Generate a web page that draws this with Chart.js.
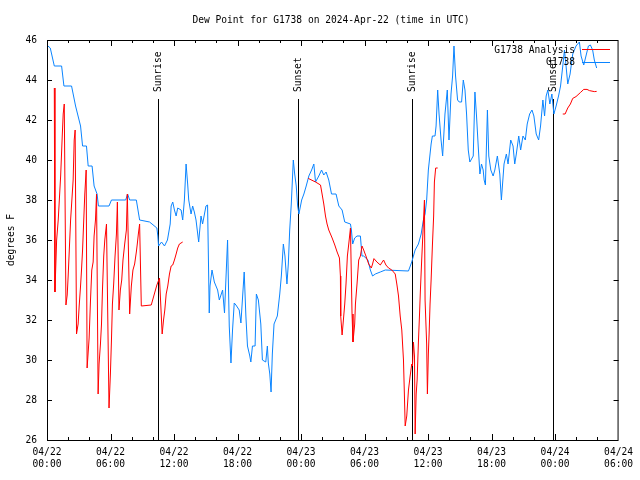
<!DOCTYPE html>
<html lang="en">
<head>
<meta charset="UTF-8">
<title>Dew Point for G1738</title>
<script src="https://cdn.jsdelivr.net/npm/chart.js"></script>
<style>
  body { margin: 0; background: #ffffff; }
  #wrap { width: 640px; height: 480px; }
</style>
</head>
<body>
<div id="wrap"><canvas id="dewChart" width="640" height="480"></canvas></div>
<script>
  // hours since 04/22 00:00 UTC
  const obsHours = [
    0.09, 0.31, 0.69, 1.38, 1.60, 2.32, 2.70, 3.17, 3.36, 3.73,
    3.89, 4.26, 4.45, 4.73, 4.86, 5.86, 6.09, 7.43, 7.62, 7.81,
    8.44, 8.75, 9.69, 10.38, 10.47, 10.54, 10.82, 11.10, 11.38, 11.64,
    11.73, 11.88, 12.04, 12.20, 12.35, 12.67, 12.82, 12.98, 13.14, 13.29,
    13.39, 13.61, 13.76, 13.92, 14.08, 14.33, 14.55, 14.70, 15.02, 15.17,
    15.33, 15.40, 15.59, 15.81, 16.12, 16.28, 16.59, 16.77, 17.06, 17.22,
    17.38, 17.53, 17.69, 17.85, 18.16, 18.32, 18.63, 18.79, 18.94, 19.16,
    19.26, 19.41, 19.66, 19.78, 19.97, 20.20, 20.35, 20.67, 20.82, 20.91,
    21.05, 21.17, 21.29, 21.45, 21.76, 21.99, 22.14, 22.33, 22.48, 22.67,
    22.80, 22.93, 23.08, 23.27, 23.40, 23.55, 23.68, 23.80, 24.06, 24.27,
    24.49, 24.74, 25.00, 25.21, 25.37, 25.68, 25.94, 26.15, 26.37, 26.62,
    26.88, 27.31, 27.57, 27.88, 28.13, 28.67, 28.76, 28.88, 29.07, 29.29,
    29.61, 29.76, 29.92, 30.32, 30.55, 30.76, 31.02, 31.49, 31.96, 34.15,
    34.46, 34.78, 35.09, 35.35, 35.56, 35.72, 35.87, 36.03, 36.29, 36.41,
    36.66, 36.76, 36.91, 37.04, 37.23, 37.38, 37.60, 37.82, 37.98, 38.17,
    38.32, 38.45, 38.60, 38.79, 38.95, 39.17, 39.33, 39.49, 39.64, 39.80,
    39.95, 40.27, 40.43, 40.58, 40.74, 40.90, 41.05, 41.21, 41.30, 41.42,
    41.61, 41.74, 41.93, 42.15, 42.31, 42.55, 42.78, 42.93, 43.18, 43.40,
    43.56, 43.81, 44.03, 44.19, 44.34, 44.57, 44.75, 44.97, 45.19, 45.37,
    45.60, 45.82, 46.00, 46.22, 46.45, 46.63, 46.85, 47.01, 47.16, 47.32,
    47.51, 47.70, 47.89, 48.10, 48.33, 48.52, 48.73, 48.89, 49.04, 49.20,
    49.42, 49.67, 49.98, 50.30, 50.46, 50.71, 50.92, 51.15, 51.34, 51.55,
    51.71, 51.93
  ];
  const obsDew = [
    45.7, 45.6, 44.7, 44.7, 43.7, 43.7, 42.7, 41.7, 40.7, 40.7,
    39.7, 39.7, 38.7, 38.3, 37.7, 37.7, 38.0, 38.0, 38.3, 38.0,
    38.0, 37.0, 36.9, 36.6, 36.2, 35.7, 35.9, 35.7, 36.0, 36.8,
    37.7, 37.9, 37.5, 37.2, 37.6, 37.5, 37.0, 38.0, 39.8, 38.8,
    38.0, 37.3, 37.7, 37.4, 37.0, 35.9, 37.2, 36.8, 37.7, 37.75,
    32.35, 33.7, 34.5, 33.9, 33.5, 33.0, 33.5, 32.35, 36.0, 31.7,
    29.85, 31.5, 32.85, 32.75, 32.5, 31.85, 34.4, 32.2, 30.7, 30.2,
    29.9, 30.7, 30.7, 33.3, 33.0, 31.8, 30.0, 29.9, 30.7, 29.85,
    29.3, 28.4, 30.3, 31.8, 32.2, 33.3, 34.2, 35.8, 35.2, 33.8,
    34.8, 36.5, 37.8, 40.0, 39.3, 38.7, 37.7, 37.3, 38.0, 38.3,
    38.7, 39.2, 39.5, 39.8, 38.9, 39.2, 39.5, 39.25, 39.4, 39.0,
    38.3, 38.3, 37.7, 37.5, 36.9, 36.8, 36.5, 35.8, 36.1, 36.2,
    36.2, 35.2, 35.2, 35.0, 34.5, 34.2, 34.3, 34.4, 34.5, 34.45,
    34.9, 35.5, 35.8, 36.3, 37.0, 37.3, 38.0, 39.5, 40.8, 41.2,
    41.2, 41.7, 43.5, 42.3, 41.0, 40.2, 42.3, 43.5, 41.0, 43.3,
    44.2, 45.7, 44.2, 43.0, 42.9, 42.9, 44.0, 43.5, 42.3, 40.5,
    39.9, 40.2, 43.4, 42.2, 40.7, 39.3, 39.8, 39.5, 39.0, 38.75,
    42.5, 40.2, 39.5, 39.2, 39.5, 40.2, 39.3, 38.0, 39.8, 40.3,
    39.8, 41.0, 40.7, 39.8, 40.3, 41.2, 40.5, 41.2, 41.0, 41.8,
    42.3, 42.5, 42.2, 41.3, 41.0, 41.7, 43.0, 42.2, 43.2, 43.5,
    42.8, 43.3, 42.3, 42.7, 43.2, 43.7, 44.7, 45.5, 44.7, 43.8,
    44.3, 45.3, 45.7, 45.9, 45.2, 44.75, 45.2, 45.7, 45.75, 45.5,
    45.0, 44.6
  ];

  const anaHours = [
    0.69, 0.75, 0.85, 0.91, 1.06, 1.29, 1.44, 1.53, 1.63, 1.79,
    1.91, 2.00, 2.23, 2.47, 2.57, 2.66, 2.79, 2.94, 3.04, 3.17,
    3.26, 3.36, 3.42, 3.57, 3.70, 3.79, 3.98, 4.11, 4.23, 4.36,
    4.45, 4.58, 4.68, 4.83, 4.92, 5.05, 5.15, 5.24, 5.36, 5.46,
    5.62, 5.86, 5.99, 6.09, 6.18, 6.30, 6.43, 6.56, 6.65, 6.80,
    6.93, 7.06, 7.18, 7.34, 7.50, 7.59, 7.81, 7.97, 8.12, 8.28,
    8.44, 8.53, 8.63, 8.75, 8.91, 9.85, 10.38, 10.63, 10.88, 11.01,
    11.13, 11.26, 11.41, 11.57, 11.73, 11.88, 12.04, 12.20, 12.35, 12.51,
    12.82, 18.00, 24.68, 25.37, 25.84, 25.99, 26.15, 26.31, 26.46, 26.62,
    26.94, 27.19, 27.41, 27.63, 27.72, 27.75, 27.88, 27.97, 28.13, 28.25,
    28.38, 28.51, 28.67, 28.82, 28.91, 29.07, 29.14, 29.29, 29.45, 29.61,
    29.76, 29.92, 30.13, 30.39, 30.64, 30.76, 30.89, 31.17, 31.49, 31.80,
    32.02, 32.27, 32.58, 32.90, 33.05, 33.21, 33.37, 33.52, 33.68, 33.77,
    33.84, 33.99, 34.15, 34.31, 34.46, 34.53, 34.62, 34.72, 34.78, 34.88,
    34.97, 35.09, 35.19, 35.28, 35.40, 35.53, 35.66, 35.72, 35.87, 35.94,
    36.03, 36.10, 36.19, 36.29, 36.41, 36.53, 36.60, 36.72, 36.91, 42.00,
    48.73, 48.95, 49.20, 49.45, 49.67, 49.98, 50.39, 50.71, 51.02, 51.25,
    51.71, 51.93
  ];
  const anaDew = [
    43.6, 33.4, 35.0, 36.0, 37.0, 39.2, 41.2, 42.3, 42.8, 32.75,
    33.25, 34.2, 37.0, 39.0, 41.0, 41.5, 31.3, 31.8, 32.7, 33.7,
    34.5, 35.5, 36.3, 38.3, 39.5, 29.6, 31.1, 33.0, 34.5, 34.9,
    36.2, 37.0, 38.3, 28.3, 29.8, 30.8, 31.8, 33.5, 35.2, 36.0,
    36.8, 27.6, 29.3, 31.0, 32.8, 33.8, 35.2, 36.3, 37.9, 32.5,
    33.5, 34.0, 35.0, 35.8, 36.5, 38.3, 32.3, 33.7, 34.5, 34.8,
    35.4, 35.8, 36.3, 36.8, 32.7, 32.75, 33.75, 34.1, 31.3, 32.0,
    32.5, 33.3, 33.7, 34.3, 34.7, 34.75, 35.0, 35.3, 35.6, 35.8,
    35.9, null, 39.08, 38.9, 38.75, 38.3, 37.8, 37.2, 36.8, 36.5,
    36.1, 35.75, 35.4, 35.1, 34.2, 32.2, 31.25, 31.8, 32.8, 33.8,
    35.2, 35.8, 36.6, 32.3, 30.9, 31.8, 32.8, 33.8, 35.0, 35.2,
    35.7, 35.5, 35.2, 34.8, 34.6, 34.8, 35.07, 34.9, 34.75, 35.0,
    34.75, 34.6, 34.5, 34.3, 33.8, 33.2, 32.2, 31.5, 30.0, 28.2,
    26.7, 27.2, 28.5, 29.2, 29.8, 29.7, 30.9, 30.2, 26.3, 28.3,
    29.0, 30.9, 32.2, 33.5, 35.0, 36.5, 38.0, 33.0, 30.8, 28.3,
    30.3, 31.3, 32.8, 34.0, 35.7, 37.2, 38.9, 39.6, 39.6, null,
    42.3, 42.3, 42.6, 42.8, 43.08, 43.17, 43.37, 43.53, 43.53, 43.47,
    43.42, 43.43
  ];

  const xTickLabels = [
    ['04/22', '00:00'], ['04/22', '06:00'], ['04/22', '12:00'], ['04/22', '18:00'],
    ['04/23', '00:00'], ['04/23', '06:00'], ['04/23', '12:00'], ['04/23', '18:00'],
    ['04/24', '00:00'], ['04/24', '06:00']
  ];
  const sunHours = [10.47, 23.73, 34.46, 47.82];
  const sunNames = ['Sunrise', 'Sunset', 'Sunrise', 'Sunset'];

  const FONT = "'DejaVu Sans Mono', monospace";
  const RED = '#ff0000';
  const BLUE = '#0a84ff';

  const toPoints = (hs, vs) => hs.map((h, i) => ({ x: h, y: vs[i] }));

  // gnuplot-looking frame, inward ticks, sun lines, title and key
  const gnuplotBits = {
    id: 'gnuplotBits',
    beforeDraw(chart) {
      const c = chart.ctx;
      c.save();
      c.fillStyle = '#ffffff';
      c.fillRect(0, 0, chart.width, chart.height);
      c.restore();
    },
    beforeDatasetsDraw(chart) {
      const { ctx, chartArea: a, scales: { x } } = chart;
      ctx.save();
      ctx.strokeStyle = '#000';
      ctx.fillStyle = '#000';
      ctx.lineWidth = 1;
      ctx.font = '9.6px ' + FONT;
      sunHours.forEach((h, i) => {
        const px = Math.round(x.getPixelForValue(h)) + 0.5;
        ctx.beginPath();
        ctx.moveTo(px, a.top + 59);
        ctx.lineTo(px, a.bottom);
        ctx.stroke();
        ctx.save();
        ctx.translate(px, a.top + 52);
        ctx.rotate(-Math.PI / 2);
        ctx.textAlign = 'left';
        ctx.textBaseline = 'middle';
        ctx.fillText(sunNames[i], 0, 0);
        ctx.restore();
      });
      ctx.restore();
    },
    afterDatasetsDraw(chart) {
      const { ctx, chartArea: a, scales: { x, y } } = chart;
      ctx.save();
      ctx.strokeStyle = '#000';
      ctx.lineWidth = 1;
      ctx.strokeRect(a.left + 0.5, a.top + 0.5, a.right - a.left - 1, a.bottom - a.top);

      ctx.beginPath();
      for (let h = 2; h < 54; h += 2) {
        const px = Math.round(x.getPixelForValue(h)) + 0.5;
        const len = h % 6 === 0 ? 6 : 3;
        ctx.moveTo(px, a.bottom); ctx.lineTo(px, a.bottom - len);
        ctx.moveTo(px, a.top); ctx.lineTo(px, a.top + len);
      }
      for (let v = 28; v < 46; v += 2) {
        const py = Math.round(y.getPixelForValue(v)) + 0.5;
        ctx.moveTo(a.left, py); ctx.lineTo(a.left + 5, py);
        ctx.moveTo(a.right, py); ctx.lineTo(a.right - 5, py);
      }
      ctx.stroke();

      ctx.fillStyle = '#000';
      ctx.font = '9.6px ' + FONT;
      ctx.textBaseline = 'middle';
      ctx.textAlign = 'center';
      ctx.fillText('Dew Point for G1738 on 2024-Apr-22 (time in UTC)', 331, 20);

      ctx.save();
      ctx.translate(11, 240);
      ctx.rotate(-Math.PI / 2);
      ctx.fillText('degrees F', 0, 0);
      ctx.restore();

      // key
      const keys = [['G1738 Analysis', RED, 50], ['G1738', BLUE, 62.5]];
      ctx.textAlign = 'right';
      keys.forEach(([label, col, ky]) => {
        ctx.fillStyle = '#000';
        ctx.fillText(label, 575, ky);
        ctx.strokeStyle = col;
        ctx.beginPath();
        ctx.moveTo(582, Math.round(ky) - 0.5);
        ctx.lineTo(610, Math.round(ky) - 0.5);
        ctx.stroke();
      });
      ctx.restore();
    }
  };

  new Chart(document.getElementById('dewChart'), {
    type: 'line',
    data: {
      datasets: [
        {
          label: 'G1738 Analysis',
          data: toPoints(anaHours, anaDew),
          borderColor: RED,
          borderWidth: 1,
          pointRadius: 0,
          tension: 0,
          spanGaps: false
        },
        {
          label: 'G1738',
          data: toPoints(obsHours, obsDew),
          borderColor: BLUE,
          borderWidth: 1,
          pointRadius: 0,
          tension: 0
        }
      ]
    },
    options: {
      responsive: false,
      animation: false,
      events: [],
      layout: { padding: { top: 40, right: 19, left: 0, bottom: 0 } },
      plugins: {
        legend: { display: false },
        title: { display: false },
        tooltip: { enabled: false }
      },
      scales: {
        x: {
          type: 'linear',
          min: 0,
          max: 54,
          afterFit: s => { s.height = 40; },
          grid: { display: false, drawTicks: false },
          border: { display: false },
          ticks: {
            stepSize: 6,
            autoSkip: false,
            maxRotation: 0,
            padding: 7,
            color: '#000',
            font: { family: FONT, size: 9.6 },
            callback: v => xTickLabels[Math.round(v / 6)]
          }
        },
        y: {
          min: 26,
          max: 46,
          afterFit: s => { s.width = 47; },
          grid: { display: false, drawTicks: false },
          border: { display: false },
          ticks: {
            stepSize: 2,
            padding: 10,
            color: '#000',
            font: { family: FONT, size: 9.6 }
          }
        }
      }
    },
    plugins: [gnuplotBits]
  });
</script>
</body>
</html>
